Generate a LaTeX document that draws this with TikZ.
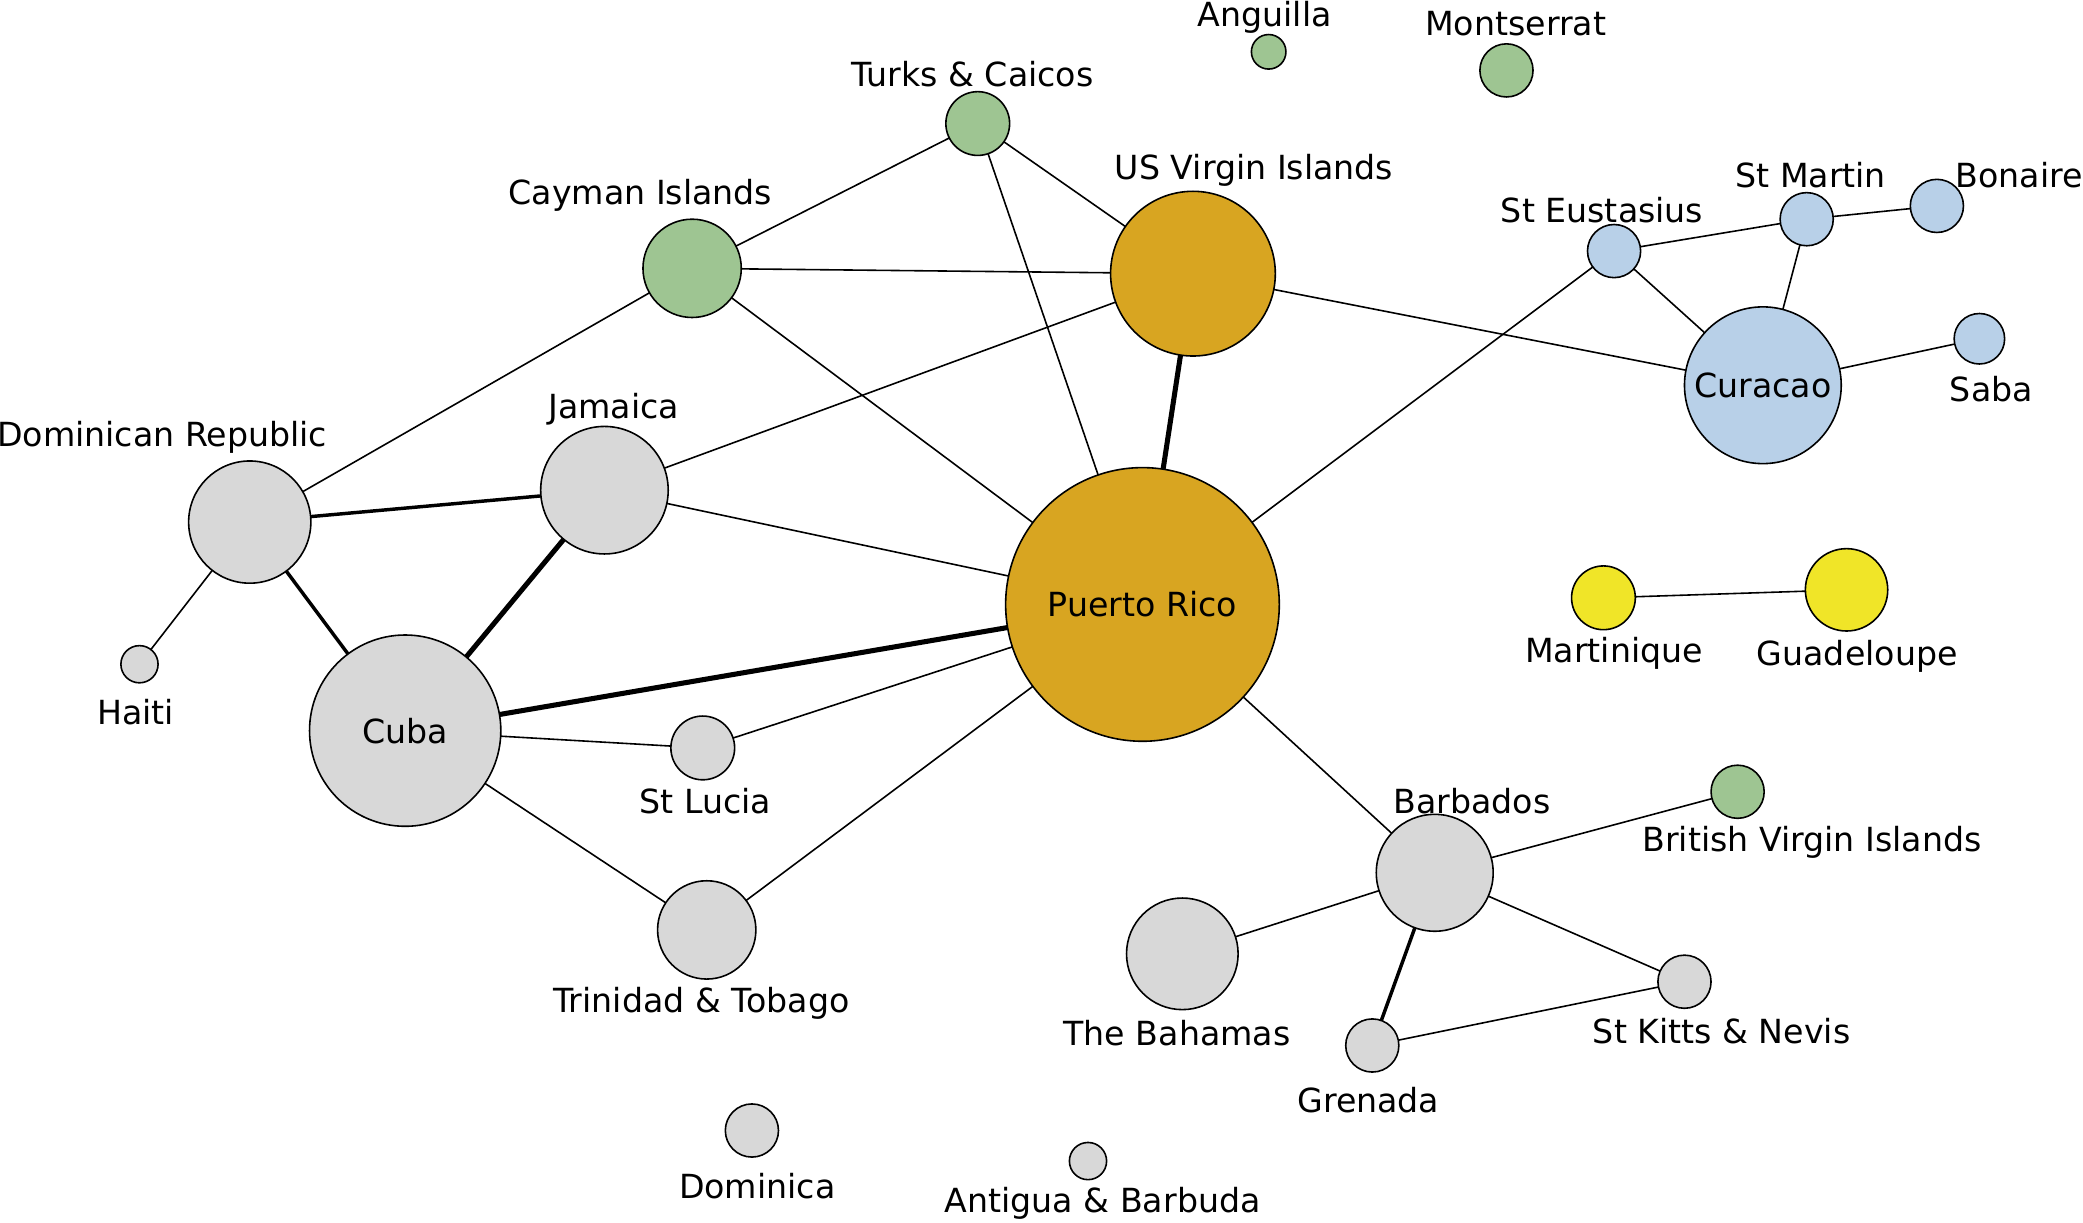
\documentclass[tikz,border=0pt]{standalone}
\usepackage{fontspec}
\setmainfont{DejaVu Sans}
\definecolor{cOr}{HTML}{D8A521}
\definecolor{cGr}{HTML}{D8D8D8}
\definecolor{cGn}{HTML}{9EC592}
\definecolor{cBl}{HTML}{B8D0E8}
\definecolor{cYe}{HTML}{F0E528}
\begin{document}
\begin{tikzpicture}[x=1pt,y=-1pt,
  nd/.style={circle,draw=black,line width=1.2pt,inner sep=0pt,minimum size=#1},
  lbl/.style={font=\fontsize{25}{29}\selectfont,inner sep=0pt,anchor=center},
  e1/.style={line width=1.2pt},
  e2/.style={line width=2.6pt},
  e3/.style={line width=3.8pt}]
\useasboundingbox (0,0) rectangle (1568,920);
\fill[white] (0,0) rectangle (1568,920);
\path
 (955,39) coordinate (pAng)
 (1134,53) coordinate (pMon)
 (736,93) coordinate (pTur)
 (521,202) coordinate (pCay)
 (898,206) coordinate (pUSV)
 (1215,189) coordinate (pEus)
 (1360,165) coordinate (pMar)
 (1458,155) coordinate (pBon)
 (1490,255) coordinate (pSab)
 (1327,290) coordinate (pCur)
 (188,393) coordinate (pDR)
 (455,369) coordinate (pJam)
 (105,500) coordinate (pHai)
 (305,550) coordinate (pCub)
 (860,455) coordinate (pPR)
 (1207,450) coordinate (pMtq)
 (1390,444) coordinate (pGua)
 (529,563) coordinate (pLuc)
 (532,700) coordinate (pTri)
 (1080,657) coordinate (pBar)
 (1308,596) coordinate (pBVI)
 (890,718) coordinate (pBah)
 (1268,739) coordinate (pKit)
 (1033,787) coordinate (pGre)
 (566,851) coordinate (pDom)
 (819,874) coordinate (pAnt);
\draw[e1] (pTur) -- (pCay);
\draw[e1] (pTur) -- (pUSV);
\draw[e1] (pTur) -- (pPR);
\draw[e1] (pCay) -- (pUSV);
\draw[e1] (pCay) -- (pPR);
\draw[e1] (pCay) -- (pDR);
\draw[e3] (pUSV) -- (pPR);
\draw[e1] (pUSV) -- (pJam);
\draw[e1] (pUSV) -- (pCur);
\draw[e1] (pEus) -- (pMar);
\draw[e1] (pMar) -- (pBon);
\draw[e1] (pEus) -- (pCur);
\draw[e1] (pMar) -- (pCur);
\draw[e1] (pCur) -- (pSab);
\draw[e1] (pEus) -- (pPR);
\draw[e2] (pDR) -- (pJam);
\draw[e2] (pDR) -- (pCub);
\draw[e1] (pDR) -- (pHai);
\draw[e3] (pJam) -- (pCub);
\draw[e1] (pJam) -- (pPR);
\draw[e3] (pCub) -- (pPR);
\draw[e1] (pCub) -- (pLuc);
\draw[e1] (pCub) -- (pTri);
\draw[e1] (pLuc) -- (pPR);
\draw[e1] (pTri) -- (pPR);
\draw[e1] (pPR) -- (pBar);
\draw[e1] (pMtq) -- (pGua);
\draw[e1] (pBar) -- (pBVI);
\draw[e1] (pBar) -- (pBah);
\draw[e2] (pBar) -- (pGre);
\draw[e1] (pBar) -- (pKit);
\draw[e1] (pGre) -- (pKit);
% nodes
\node[nd=26pt,fill=cGn] (Ang) at (pAng) {};
\node[nd=40pt,fill=cGn] (Mon) at (pMon) {};
\node[nd=48pt,fill=cGn] (Tur) at (pTur) {};
\node[nd=74pt,fill=cGn] (Cay) at (pCay) {};
\node[nd=124pt,fill=cOr] (USV) at (pUSV) {};
\node[nd=40pt,fill=cBl] (Eus) at (pEus) {};
\node[nd=40pt,fill=cBl] (Mar) at (pMar) {};
\node[nd=40pt,fill=cBl] (Bon) at (pBon) {};
\node[nd=38pt,fill=cBl] (Sab) at (pSab) {};
\node[nd=118pt,fill=cBl,lbl] (Cur) at (pCur) {Curacao};
\node[nd=92pt,fill=cGr] (DR) at (pDR) {};
\node[nd=96pt,fill=cGr] (Jam) at (pJam) {};
\node[nd=28pt,fill=cGr] (Hai) at (pHai) {};
\node[nd=144pt,fill=cGr,lbl] (Cub) at (pCub) {Cuba};
\node[nd=206pt,fill=cOr,lbl] (PR) at (pPR) {Puerto Rico};
\node[nd=48pt,fill=cYe] (Mtq) at (pMtq) {};
\node[nd=62pt,fill=cYe] (Gua) at (pGua) {};
\node[nd=48pt,fill=cGr] (Luc) at (pLuc) {};
\node[nd=74pt,fill=cGr] (Tri) at (pTri) {};
\node[nd=88pt,fill=cGr] (Bar) at (pBar) {};
\node[nd=40pt,fill=cGn] (BVI) at (pBVI) {};
\node[nd=84pt,fill=cGr] (Bah) at (pBah) {};
\node[nd=40pt,fill=cGr] (Kit) at (pKit) {};
\node[nd=40pt,fill=cGr] (Gre) at (pGre) {};
\node[nd=40pt,fill=cGr] (Dom) at (pDom) {};
\node[nd=28pt,fill=cGr] (Ant) at (pAnt) {};
% labels
\node[lbl] (lAng) at (952,13) {Anguilla};
\node[lbl] (lMon) at (1141,18) {Montserrat};
\node[lbl] (lTur) at (732,56) {Turks \& Caicos};
\node[lbl] (lCay) at (482,147) {Cayman Islands};
\node[lbl] (lUSV) at (944,128) {US Virgin Islands};
\node[lbl] (lEus) at (1206,158) {St Eustasius};
\node[lbl] (lMar) at (1363,132) {St Martin};
\node[lbl] (lBon) at (1520,132) {Bonaire};
\node[lbl] (lSab) at (1499,293) {Saba};
\node[lbl] (lDR) at (122,329) {Dominican Republic};
\node[lbl] (lJam) at (462,308) {Jamaica};
\node[lbl] (lHai) at (102,536) {Haiti};
\node[lbl] (lMtq) at (1215,492) {Martinique};
\node[lbl] (lGua) at (1398,494) {Guadeloupe};
\node[lbl] (lLuc) at (531,603) {St Lucia};
\node[lbl] (lTri) at (528,755) {Trinidad \& Tobago};
\node[lbl] (lBar) at (1108,603) {Barbados};
\node[lbl] (lBVI) at (1364,634) {British Virgin Islands};
\node[lbl] (lBah) at (886,778) {The Bahamas};
\node[lbl] (lKit) at (1296,776) {St Kitts \& Nevis};
\node[lbl] (lGre) at (1030,828) {Grenada};
\node[lbl] (lDom) at (570,893) {Dominica};
\node[lbl] (lAnt) at (830,906) {Antigua \& Barbuda};
\end{tikzpicture}
\end{document}
